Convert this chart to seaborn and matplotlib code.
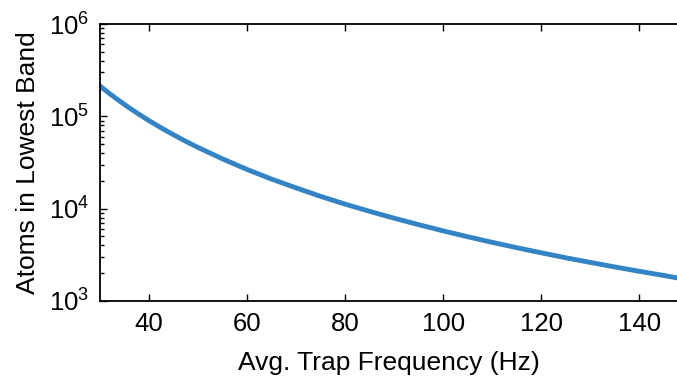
import matplotlib
matplotlib.use("Agg")
import matplotlib.pyplot as plt
import seaborn as sns
import pandas as pd
import numpy as np

freq_hz = [30, 32, 34, 36, 38, 40, 42.5, 45, 47.5, 50, 55, 60, 65, 70, 75, 80,
           85, 90, 95, 100, 105, 110, 115, 120, 125, 130, 135, 140, 145, 148]
atoms = [2.13e5, 1.755e5, 1.463e5, 1.232e5, 1.048e5, 8.98e4, 7.49e4, 6.31e4,
         5.36e4, 4.60e4, 3.46e4, 2.66e4, 2.09e4, 1.68e4, 1.36e4, 1.12e4,
         9.36e3, 7.89e3, 6.71e3, 5.75e3, 4.97e3, 4.32e3, 3.78e3, 3.33e3,
         2.94e3, 2.62e3, 2.34e3, 2.10e3, 1.89e3, 1.77e3]
x_ticks = [40, 60, 80, 100, 120, 140]

sns.set_style("ticks")
plt.rcParams['font.family'] = ['Liberation Sans', 'DejaVu Sans']
plt.rcParams['mathtext.fontset'] = 'custom'
plt.rcParams['mathtext.rm'] = 'Liberation Sans'
plt.rcParams['text.color'] = 'black'
plt.rcParams['axes.labelcolor'] = 'black'
plt.rcParams['xtick.color'] = 'black'
plt.rcParams['ytick.color'] = 'black'
plt.rcParams['axes.edgecolor'] = 'black'

df = pd.DataFrame({"freq": freq_hz, "atoms": atoms})

fig = plt.figure(figsize=(6.77, 3.81), dpi=100)
ax = fig.add_axes([100/677, 1 - 301/381, 1 - 100/677 + 0.002, (301 - 24)/381])
sns.lineplot(data=df, x="freq", y="atoms", ax=ax, color="#3483c4", linewidth=3.5)
ax.set_yscale("log")
ax.set_xlim(30, 148)
ax.set_ylim(1e3, 1e6)
ax.set_xticks(x_ticks)
ax.set_xlabel("Avg. Trap Frequency (Hz)", fontsize=19)
ax.set_ylabel("Atoms in Lowest Band", fontsize=19)
ax.tick_params(axis="both", which="both", direction="in", top=True, right=False,
               labelsize=18.5, width=1)
ax.tick_params(axis="both", which="major", length=5, pad=8)
ax.tick_params(axis="y", which="minor", length=3)
ax.spines["right"].set_visible(False)
for s in ["left", "bottom", "top"]:
    ax.spines[s].set_linewidth(1.3)
ax.xaxis.labelpad = 11
ax.yaxis.labelpad = 6
fig.savefig("out.png", dpi=100)
